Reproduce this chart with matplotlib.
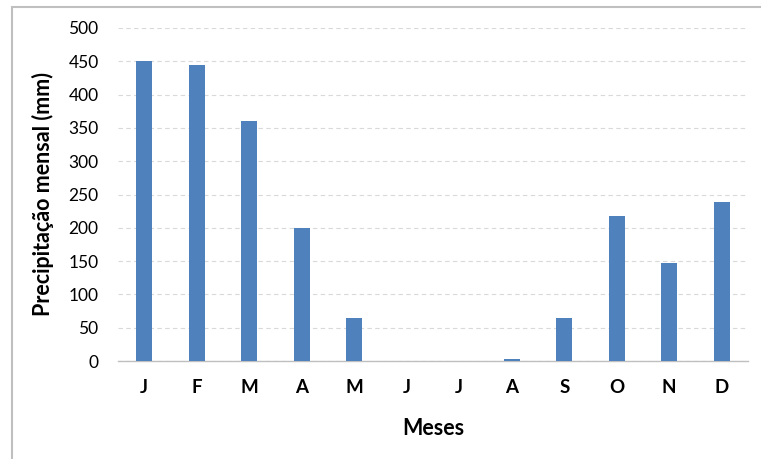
import matplotlib.pyplot as plt
from matplotlib.patches import Rectangle

# precipitação mensal (mm)
meses = ['J', 'F', 'M', 'A', 'M', 'J', 'J', 'A', 'S', 'O', 'N', 'D']
precip = [451, 444, 361, 200, 65, 0, 0, 2.5, 64, 218, 147, 239]
yticks = [0, 50, 100, 150, 200, 250, 300, 350, 400, 450, 500]

plt.rcParams['font.family'] = ['Lato', 'DejaVu Sans']

fig = plt.figure(figsize=(7.61, 4.59), dpi=100)
ax = fig.add_axes([118 / 761, 1 - 361 / 459, 630 / 761, 333 / 459])

x = list(range(len(meses)))
ax.bar(x, precip, width=0.31, color='#4f81bd', zorder=3)

ax.set_xlim(-0.5, len(meses) - 0.5)
ax.set_ylim(0, 500)
ax.set_yticks(yticks)
ax.set_xticks(x)
ax.set_xticklabels(meses, fontsize=13.5, fontweight='bold')
ax.tick_params(axis='y', labelsize=12.5, length=0, pad=14)
ax.tick_params(axis='x', length=0, pad=13)

ax.yaxis.grid(True, color='#d9d9d9', linestyle=(0, (4, 3)), linewidth=0.8, zorder=0)
ax.set_axisbelow(True)
for s in ['top', 'right', 'left']:
    ax.spines[s].set_visible(False)
ax.spines['bottom'].set_color('#bfbfbf')
ax.spines['bottom'].set_linewidth(1)

ax.set_ylabel('Precipitação mensal (mm)', fontsize=15.5, fontweight='bold', labelpad=10)
ax.set_xlabel('Meses', fontsize=15.5, fontweight='bold', labelpad=16)

# moldura cinza
fig.patches.append(Rectangle((12 / 761, -0.05), 1.0, 1 - 7 / 459 + 0.05,
                             transform=fig.transFigure, fill=False,
                             edgecolor='#bfbfbf', linewidth=1.5))

fig.savefig('out.png', dpi=100)
